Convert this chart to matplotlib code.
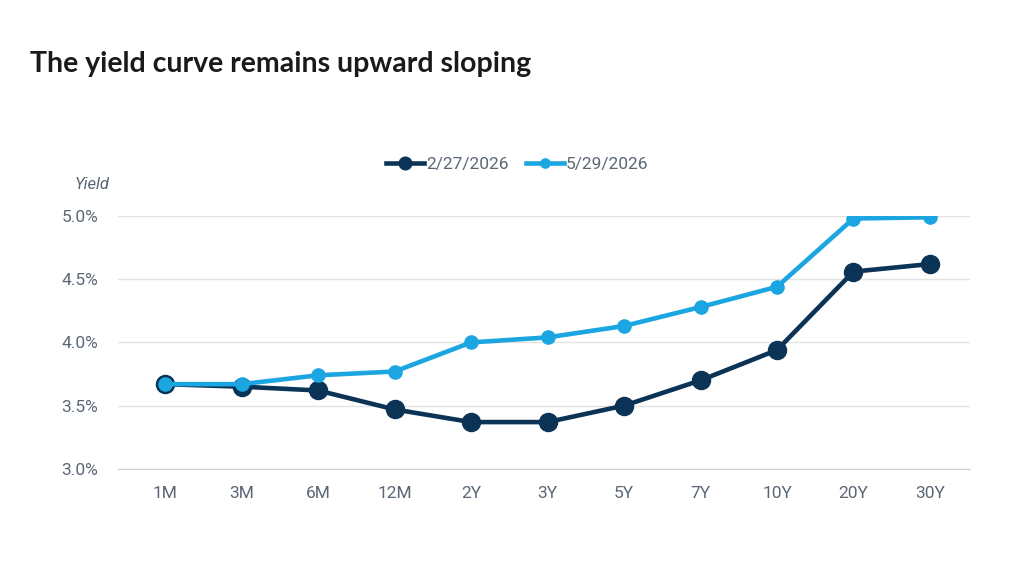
import matplotlib
matplotlib.use("Agg")
import matplotlib.pyplot as plt

# Treasury yield curve data (percent)
tenors = ["1M", "3M", "6M", "12M", "2Y", "3Y", "5Y", "7Y", "10Y", "20Y", "30Y"]
feb_2026 = [3.67, 3.65, 3.62, 3.47, 3.37, 3.37, 3.50, 3.70, 3.94, 4.56, 4.62]
may_2026 = [3.67, 3.67, 3.74, 3.77, 4.00, 4.04, 4.13, 4.28, 4.44, 4.98, 4.99]
yticks = [3.0, 3.5, 4.0, 4.5, 5.0]

dark = "#0b3356"
light = "#1ba6e2"
grey = "#5b6775"

plt.rcParams["font.family"] = ["Roboto", "DejaVu Sans"]

fig = plt.figure(figsize=(10.24, 5.76), dpi=100)
ax = fig.add_axes([0.115, 0.186, 0.832, 0.439])

x = list(range(len(tenors)))
ax.plot(x, feb_2026, color=dark, lw=3.3, marker="o", ms=13, label="2/27/2026", zorder=3)
ax.plot(x, may_2026, color=light, lw=3.3, marker="o", ms=9.5, label="5/29/2026", zorder=4)

ax.set_xlim(-0.62, 10.52)
ax.set_ylim(3.0, 5.0)
ax.set_xticks(x)
ax.set_xticklabels(tenors)
ax.set_yticks(yticks)
ax.set_yticklabels([f"{v:.1f}%" for v in yticks])
ax.tick_params(axis="both", length=0, labelsize=12.5, colors=grey, pad=12)
ax.tick_params(axis="y", pad=14)
ax.grid(axis="y", color="#e3e3e3", lw=1)
ax.set_axisbelow(True)
for s in ["top", "right", "left"]:
    ax.spines[s].set_visible(False)
ax.spines["bottom"].set_color("#cfcfcf")

fig.text(0.073, 0.679, "Yield", fontsize=12, style="italic", color=grey, va="center")
fig.text(0.029, 0.889, "The yield curve remains upward sloping", fontsize=20.5,
         fontweight="bold", color="#1a1a1a", va="center", family=["Lato", "DejaVu Sans"])

fig.legend(loc="center", bbox_to_anchor=(0.505, 0.714), ncol=2, frameon=False,
           fontsize=12.5, labelcolor=grey, handlelength=2.2, handletextpad=0.1,
           columnspacing=1.0, markerscale=0.7)

fig.savefig("out.png", dpi=100)
